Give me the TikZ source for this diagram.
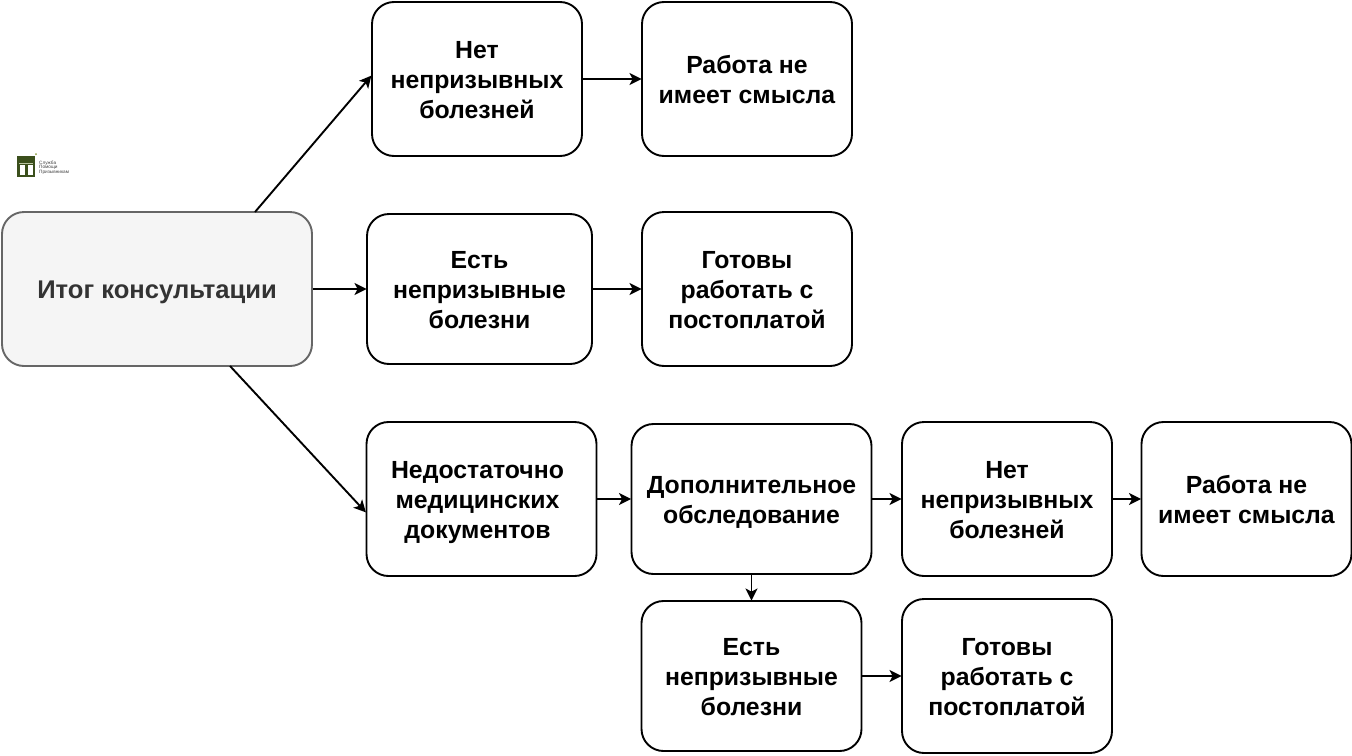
\documentclass[tikz,border=0pt]{standalone}
\usepackage{fontspec}
\setmainfont{Liberation Sans}
\usetikzlibrary{arrows.meta}
\definecolor{logog}{HTML}{3B4F1C}
\definecolor{logol}{HTML}{B9C4A0}
\definecolor{logoy}{HTML}{8A9A3A}
\newcommand{\boxtxt}[1]{\raisebox{-3pt}[\height][\depth]{\begin{tabular}{@{}c@{}}#1\end{tabular}}}
\tikzset{
  x=1pt,y=-1pt,
  box/.style={draw=black,line width=1.9pt,rounded corners=22pt,fill=white,inner sep=0pt,
    font=\fontsize{24.8}{30}\selectfont\bfseries,text=black},
  mainbox/.style={draw=black!60,line width=1.9pt,rounded corners=22pt,fill=black!4,text=black!80,inner sep=0pt,
    font=\fontsize{25.6}{30}\selectfont\bfseries},
  conn/.style={draw=black,line width=1.9pt,-{Stealth[length=12pt,width=12pt,inset=3pt]},shorten >=-0.5pt},
  logotext/.style={inner sep=0pt,anchor=west,font=\fontsize{4.7}{5}\selectfont,text=black!75,align=left}
}
\begin{document}
\begin{tikzpicture}
\useasboundingbox (0,0) rectangle (1352,755);
\node[mainbox,minimum width=310pt,minimum height=154pt] (a) at (157,289) {\raisebox{-3pt}[\height][\depth]{Итог консультации}};
\node[box,minimum width=210pt,minimum height=154pt] (b1) at (477,79) {\boxtxt{Нет\\непризывных\\болезней}};
\node[box,minimum width=210pt,minimum height=154pt] (c1) at (747,79) {\boxtxt{Работа не\\имеет смысла}};
\node[box,minimum width=225pt,minimum height=150pt] (b2) at (479.5,289) {\boxtxt{Есть\\непризывные\\болезни}};
\node[box,minimum width=210pt,minimum height=154pt] (c2) at (747,289) {\boxtxt{Готовы\\работать с\\постоплатой}};
\node[box,minimum width=230pt,minimum height=154pt] (b3) at (481.5,499) {\boxtxt{Недостаточно\hspace*{8pt}\\медицинских\hspace*{8pt}\\документов\hspace*{8pt}}};
\node[box,minimum width=240pt,minimum height=150pt] (d) at (751.5,499) {\boxtxt{Дополнительное\\обследование}};
\node[box,minimum width=210pt,minimum height=154pt] (e) at (1007,499) {\boxtxt{Нет\\непризывных\\болезней}};
\node[box,minimum width=210pt,minimum height=154pt] (f) at (1246.5,499) {\boxtxt{Работа не\\имеет смысла}};
\node[box,minimum width=220pt,minimum height=150pt] (g) at (751.5,676) {\boxtxt{Есть\\непризывные\\болезни}};
\node[box,minimum width=210pt,minimum height=154pt] (h) at (1007,676) {\boxtxt{Готовы\\работать с\\постоплатой}};
\coordinate (a1) at (255,212);
\coordinate (a3) at (230,366);
\draw[conn] (a1) -- ([yshift=3pt]b1.west);
\draw[conn] (a) -- (b2);
\draw[conn] (a3) -- ([yshift=-13pt]b3.west);
\draw[conn] (b1) -- (c1);
\draw[conn] (b2) -- (c2);
\draw[conn] (b3) -- (d);
\draw[conn] (d) -- (e);
\draw[conn] (e) -- (f);
\draw[conn] (d) -- (g);
\draw[conn] (g) -- (h);
% logo
\fill[logog] (17,156) rectangle (35,177);
\fill[logol] (19,162.5) rectangle (32.5,163.5);
\fill[white] (19.5,165) rectangle (24.5,175);
\fill[white] (27.5,165) rectangle (32.5,175);
\fill[logoy] (36,154) circle (1pt);
\node[logotext] (logot) at (39,167.5) {Служба\\[-0.6pt]Помощи\\[-0.6pt]Призывникам};
\end{tikzpicture}
\end{document}
